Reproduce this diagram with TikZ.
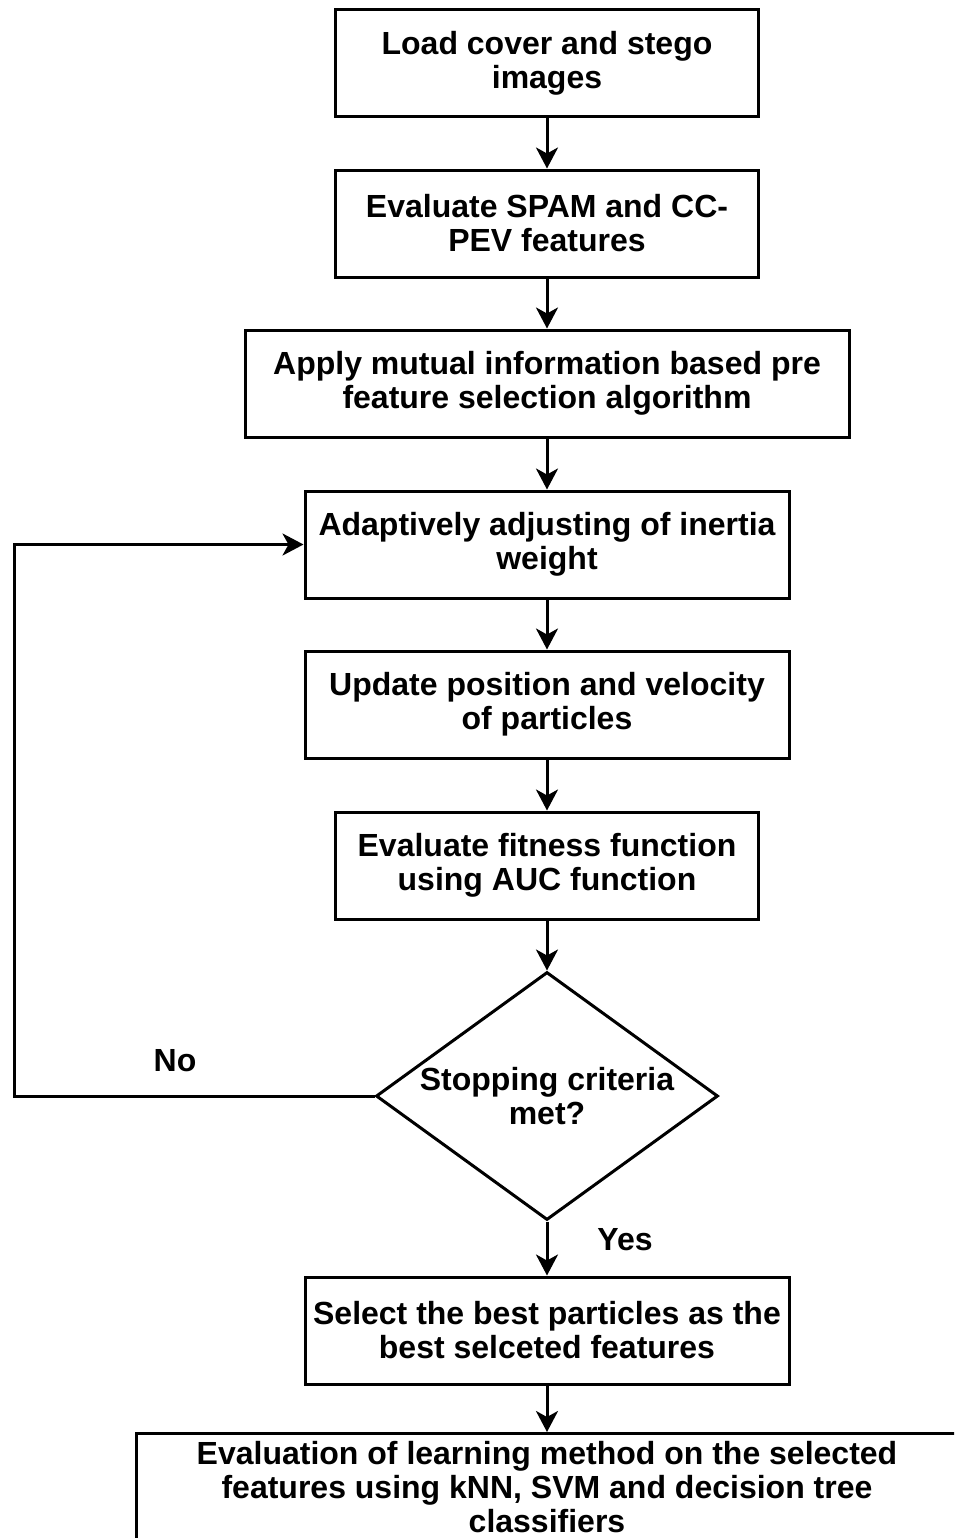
\documentclass[tikz,border=0pt]{standalone}
\usepackage{fontspec}
\setmainfont{Liberation Sans}
\usetikzlibrary{shapes.geometric,arrows.meta}

\tikzset{
  stepbox/.style={draw, line width=1.5pt, rectangle, inner sep=0pt,
    minimum height=53.5pt, align=center,
    font=\fontsize{16}{17}\selectfont\bfseries},
  decision/.style={draw, line width=1.5pt, diamond, inner sep=0pt,
    minimum width=171pt, minimum height=124pt},
  lbl/.style={font=\fontsize{16}{17}\selectfont\bfseries, align=center, inner sep=0pt},
  flow/.style={line width=1.5pt, -{Stealth[length=10.5pt,width=11pt,inset=3pt]}},
}

\begin{document}
\begin{tikzpicture}[x=0.5pt, y=-0.5pt]
  \clip (0,0) rectangle (954,1538);
  \fill[white] (0,0) rectangle (954,1538);

  \node[stepbox, minimum width=211.5pt] (n1) at (547,63)
    {Load cover and stego\\images};
  \node[stepbox, minimum width=211.5pt] (n2) at (547,223.5)
    {Evaluate SPAM and CC-\\PEV features};
  \node[stepbox, minimum width=302pt] (n3) at (547,383.5)
    {Apply mutual information based pre\\feature selection algorithm};
  \node[stepbox, minimum width=242pt] (n4) at (547,544.5)
    {Adaptively adjusting of inertia\\weight};
  \node[stepbox, minimum width=242pt] (n5) at (547,704.5)
    {Update position and velocity\\of particles};
  \node[stepbox, minimum width=211.5pt] (n6) at (547,865.5)
    {Evaluate fitness function\\using AUC function};
  \node[decision] (d) at (547,1096) {};
  \node[lbl] (dt) at (547,1096) {Stopping criteria\\met?};
  \node[stepbox, minimum width=242pt] (n8) at (547,1330.5)
    {Select the best particles as the\\best selceted features};
  \node[stepbox, minimum width=411pt, minimum height=53.5pt] (n9) at (547,1487)
    {Evaluation of learning method on the selected\\features using kNN, SVM and decision tree\\classifiers};

  \draw[flow] (n1) -- (n2);
  \draw[flow] (n2) -- (n3);
  \draw[flow] (n3) -- (n4);
  \draw[flow] (n4) -- (n5);
  \draw[flow] (n5) -- (n6);
  \draw[flow] (n6) -- (d);
  \draw[flow] (d) -- (n8);
  \draw[flow] (n8) -- (n9);

  % loop back when the criteria are not met
  \coordinate (c1) at (14,1096);
  \coordinate (c2) at (14,544.5);
  \draw[flow] (d.west) -- (c1) -- (c2) -- (n4.west);

  \node[lbl] (no) at (175,1061) {No};
  \node[lbl] (yes) at (625,1240) {Yes};
\end{tikzpicture}
\end{document}
